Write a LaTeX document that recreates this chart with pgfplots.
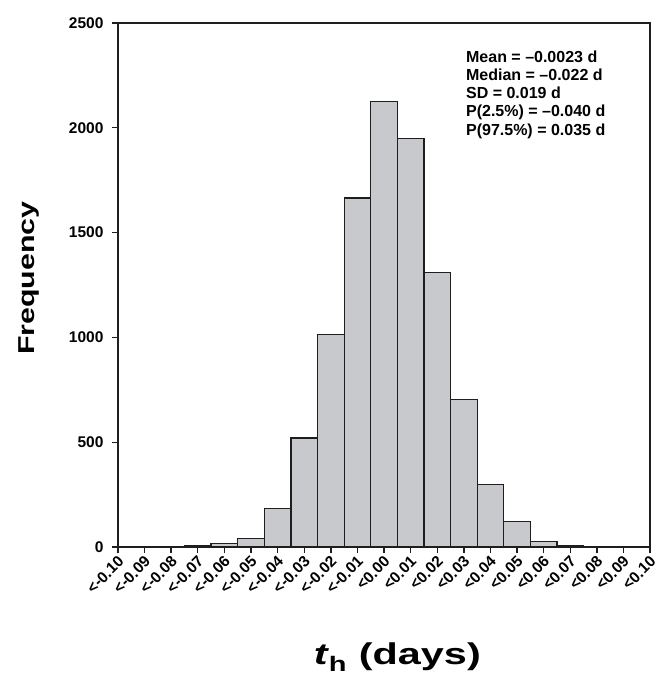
\documentclass[border=0pt]{standalone}
\usepackage{pgfplots}
\pgfplotsset{compat=1.18}
\usepackage{fontspec}
\setmainfont{Liberation Sans}
\definecolor{barfill}{RGB}{200,201,204}
\definecolor{edge}{RGB}{30,30,30}
\begin{document}
\begin{tikzpicture}
\path[use as bounding box] (-118pt,-133pt) rectangle (537pt,547pt);
\begin{axis}[
    scale only axis,
    width=532pt, height=524pt,
    xmin=0, xmax=20,
    ymin=0, ymax=2500,
    axis line style={edge, line width=1.6pt},
    xtick={0,...,20},
    xticklabels={<-0.10,<-0.09,<-0.08,<-0.07,<-0.06,<-0.05,<-0.04,<-0.03,<-0.02,<-0.01,<0.00,<0.01,<0.02,<0.03,<0.04,<0.05,<0.06,<0.07,<0.08,<0.09,<0.10},
    ytick={0,500,...,2500},
    xtick pos=left, ytick pos=left,
    tick align=outside,
    major tick length=6pt,
    tick style={edge, line width=1.4pt},
    xticklabel style={rotate=45, anchor=south east, font=\fontsize{15.5}{15.5}\selectfont\bfseries, inner sep=0pt, yshift=-12pt, xshift=-2pt},
    yticklabel style={font=\fontsize{15.5}{15.5}\selectfont\bfseries, xshift=-5pt, /pgf/number format/assume math mode=true, /pgf/number format/1000 sep={}},
    ylabel={\scalebox{1.32}[1]{Frequency}},
    ylabel style={at={(axis description cs:-0.167,0.513)}, anchor=center, font=\fontsize{23}{23}\selectfont\bfseries},
    xlabel={\scalebox{1.38}[1]{\textit{t}\textsubscript{h} (days)}},
    xlabel style={at={(axis description cs:0.525,-0.21)}, anchor=center, font=\fontsize{30}{30}\selectfont\bfseries},
]
\addplot[ybar, bar width=1, bar shift=0, fill=barfill, draw=edge, line width=1.2pt] coordinates {
    (3,5) (4,17) (5,40) (6,185) (7,520) (8,1015) (9,1665) (10,2125)
    (11,1950) (12,1310) (13,705) (14,300) (15,120) (16,27) (17,6)
};
\node[anchor=north west, align=left, inner sep=0pt, font=\fontsize{16}{18.3}\selectfont\bfseries]
    at (axis description cs:0.654,0.948)
    {Mean = –0.0023 d\\Median = –0.022 d\\SD = 0.019 d\\P(2.5\%) = –0.040 d\\P(97.5\%) = 0.035 d};
\end{axis}
\end{tikzpicture}
\end{document}
